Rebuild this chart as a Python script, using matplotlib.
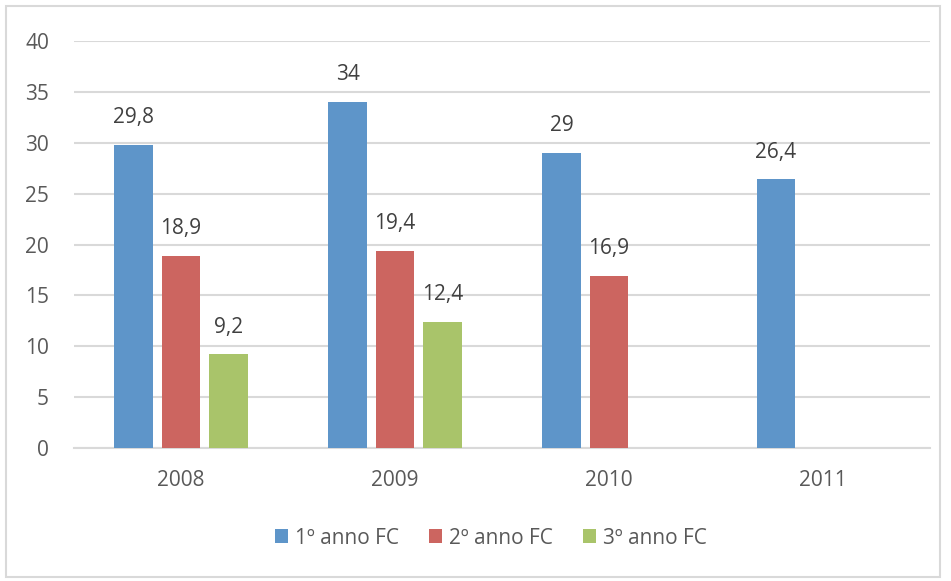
import numpy as np
import matplotlib
matplotlib.use('Agg')
import matplotlib.pyplot as plt
from matplotlib.patches import Rectangle

# values per year, one list per course year (None = no data)
years = ['2008', '2009', '2010', '2011']
series_names = ['1º anno FC', '2º anno FC', '3º anno FC']
anno1 = [29.8, 34, 29, 26.4]
anno2 = [18.9, 19.4, 16.9, None]
anno3 = [9.2, 12.4, None, None]
colors = ['#5E95C9', '#CC6560', '#A9C46A']

plt.rcParams['font.family'] = ['Open Sans', 'DejaVu Sans']
txtColor = '#595959'
gridColor = '#D9D9D9'
fs = 15

fig = plt.figure(figsize=(9.51, 5.81), dpi=100)
ax = fig.add_axes([0.0778, 0.2289, 0.9002, 0.7005])

x = np.arange(len(years))
barWidth = 0.178
offset = 0.222

for i, vals in enumerate([anno1, anno2, anno3]):
    pos = [x[j] + (i - 1) * offset for j in range(len(vals)) if vals[j] is not None]
    h = [v for v in vals if v is not None]
    bars = ax.bar(pos, h, width=barWidth, color=colors[i], label=series_names[i], zorder=3)
    for b, v in zip(bars, h):
        lab = ('%g' % v).replace('.', ',')
        ax.annotate(lab, (b.get_x() + b.get_width() / 2, v), xytext=(0, 19.5),
                    textcoords='offset points', ha='center', va='center',
                    fontsize=fs, color='#404040')

ax.set_xlim(-0.5, len(years) - 0.5)
ax.set_ylim(0, 40)
ax.set_yticks(np.arange(0, 41, 5))
ax.set_xticks(x)
ax.set_xticklabels(years)
ax.tick_params(length=0, labelsize=fs, colors=txtColor)
ax.tick_params(axis='y', pad=18)
ax.tick_params(axis='x', pad=16)
ax.grid(axis='y', color=gridColor, linewidth=1.5, zorder=0)
for s in ['top', 'right', 'left']:
    ax.spines[s].set_visible(False)
ax.spines['bottom'].set_color(gridColor)
ax.spines['bottom'].set_linewidth(1.5)

leg = fig.legend(loc='center', bbox_to_anchor=(0.516, 0.074), ncol=3, frameon=False,
                 handlelength=0.65, handleheight=0.65, handletextpad=0.3,
                 columnspacing=1.45, fontsize=fs)
for t in leg.get_texts():
    t.set_color(txtColor)

# light frame round the whole chart
fig.patches.append(Rectangle((6 / 951, 4 / 581), 934 / 951, 571 / 581, transform=fig.transFigure,
                             fill=False, edgecolor=gridColor, linewidth=1.5))

fig.savefig('out.png', dpi=100)
